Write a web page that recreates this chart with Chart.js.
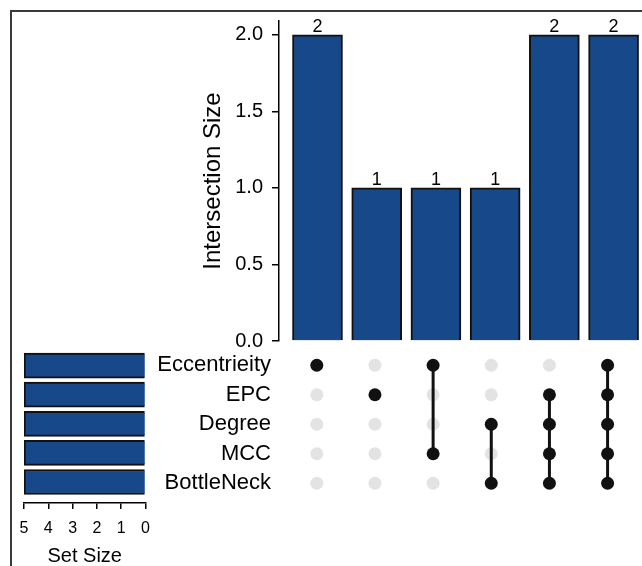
<!DOCTYPE html>
<html>
<head>
<meta charset="utf-8">
<script src="https://cdn.jsdelivr.net/npm/chart.js@4/dist/chart.umd.min.js"></script>
<style>
  body { margin: 0; background: #fff; }
  #wrap { position: relative; width: 642px; height: 566px; overflow: hidden; }
  #frame { position: absolute; left: 10px; top: 10px; width: 700px; height: 700px; border: 2px solid #3a3a3a; box-sizing: border-box; }
  canvas { position: absolute; }
</style>
</head>
<body>
<div id="wrap">
  <div id="frame"></div>
  <canvas id="bars" style="left:0px;top:0px" width="642" height="362"></canvas>
  <canvas id="matrix" style="left:0px;top:327px" width="642" height="194"></canvas>
  <canvas id="sets" style="left:0px;top:340px" width="170" height="226"></canvas>
</div>
<script>
// sets (top row first) and intersections (left to right)
const setNames = ['Eccentrieity', 'EPC', 'Degree', 'MCC', 'BottleNeck'];
const setSizes = [5, 5, 5, 5, 5];
const intersectionSizes = [2, 1, 1, 1, 2, 2];
const intersectionMembers = [
  ['Eccentrieity'],
  ['EPC'],
  ['Eccentrieity', 'MCC'],
  ['Degree', 'BottleNeck'],
  ['EPC', 'Degree', 'MCC', 'BottleNeck'],
  ['Eccentrieity', 'EPC', 'Degree', 'MCC', 'BottleNeck']
];
const yTicks = [0, 0.5, 1, 1.5, 2];
const setTicks = [0, 1, 2, 3, 4, 5];

const barBlue = '#17488a';
const font = 'Liberation Sans, Arial, Helvetica, sans-serif';
Chart.defaults.font.family = font;
Chart.defaults.color = '#000';

const xMin = -0.65, xMax = 5.48;

// value labels above the intersection bars
const barLabels = {
  id: 'barLabels',
  afterDatasetsDraw(chart) {
    const ctx = chart.ctx;
    const meta = chart.getDatasetMeta(0);
    ctx.save();
    ctx.font = '18px ' + font;
    ctx.fillStyle = '#000';
    ctx.textAlign = 'center';
    ctx.textBaseline = 'bottom';
    meta.data.forEach((el, i) => {
      ctx.fillText(String(intersectionSizes[i]), el.x, el.y + 1);
    });
    ctx.restore();
  }
};

new Chart(document.getElementById('bars'), {
  type: 'bar',
  data: {
    datasets: [{
      data: intersectionSizes.map((v, i) => ({ x: i, y: v })),
      backgroundColor: barBlue,
      borderColor: '#111',
      borderWidth: 2,
      barThickness: 50
    }]
  },
  options: {
    responsive: false,
    animation: false,
    layout: { padding: { left: 195, top: 20, right: 0, bottom: 20 } },
    plugins: { legend: { display: false }, tooltip: { enabled: false } },
    scales: {
      x: { type: 'linear', min: xMin, max: xMax, offset: false, display: false },
      y: {
        min: 0, max: 2.09,
        afterFit: s => { s.width = 84; },
        afterBuildTicks: s => { s.ticks = yTicks.map(v => ({ value: v })); },
        ticks: { font: { size: 20 }, padding: 9, callback: v => v.toFixed(1) },
        grid: { drawOnChartArea: false, drawTicks: true, tickLength: 7, color: '#000', lineWidth: 1.5 },
        border: { display: true, color: '#000', width: 1.5 },
        title: { display: true, text: 'Intersection Size', font: { size: 24 }, padding: { top: 4, bottom: 4 } }
      }
    }
  },
  plugins: [barLabels]
});

// matrix of dots
const grey = [], black = [], links = [];
intersectionMembers.forEach((members, i) => {
  setNames.forEach((name, r) => {
    (members.includes(name) ? black : grey).push({ x: i, y: r });
  });
  const rows = members.map(m => setNames.indexOf(m));
  if (rows.length > 1) {
    links.push({
      type: 'line',
      data: [{ x: i, y: Math.min(...rows) }, { x: i, y: Math.max(...rows) }],
      borderColor: '#111', borderWidth: 3, pointRadius: 0, order: 2
    });
  }
});

new Chart(document.getElementById('matrix'), {
  type: 'scatter',
  data: {
    datasets: [
      { data: grey, backgroundColor: '#e3e3e3', borderWidth: 0, pointRadius: 6.5, order: 3 },
      ...links,
      { data: black, backgroundColor: '#111', borderWidth: 0, pointRadius: 6.5, order: 1 }
    ]
  },
  options: {
    responsive: false,
    animation: false,
    layout: { padding: { left: 0, top: 23.5, right: 0, bottom: 23 } },
    plugins: { legend: { display: false }, tooltip: { enabled: false } },
    scales: {
      x: { type: 'linear', min: xMin, max: xMax, display: false },
      y: {
        type: 'linear', min: -0.5, max: 4.5, reverse: true,
        afterFit: s => { s.width = 279; },
        afterBuildTicks: s => { s.ticks = setNames.map((n, i) => ({ value: i })); },
        ticks: { font: { size: 22 }, padding: 8, callback: v => setNames[v] },
        grid: { display: false, drawTicks: false },
        border: { display: false }
      }
    }
  }
});

// set size bars
new Chart(document.getElementById('sets'), {
  type: 'bar',
  data: {
    datasets: [{
      data: setSizes.map((v, i) => ({ x: v, y: i })),
      backgroundColor: barBlue,
      borderColor: '#111',
      borderWidth: 2,
      barThickness: 25
    }]
  },
  options: {
    indexAxis: 'y',
    responsive: false,
    animation: false,
    layout: { padding: { left: 24, top: 11, right: 24.5, bottom: 0 } },
    plugins: { legend: { display: false }, tooltip: { enabled: false } },
    scales: {
      y: { type: 'linear', min: -0.5, max: 4.72, reverse: true, offset: false, display: false },
      x: {
        min: 0, max: 5, reverse: true, position: 'bottom',
        afterBuildTicks: s => { s.ticks = setTicks.map(v => ({ value: v })); },
        ticks: { font: { size: 16, lineHeight: 1 }, padding: 12 },
        grid: { drawOnChartArea: false, drawTicks: true, tickLength: 6, color: '#000', lineWidth: 1.5 },
        border: { display: true, color: '#000', width: 1.5 },
        title: { display: true, text: 'Set Size', font: { size: 20, lineHeight: 1 }, padding: { top: -3, bottom: 0 } }
      }
    }
  }
});
</script>
</body>
</html>
